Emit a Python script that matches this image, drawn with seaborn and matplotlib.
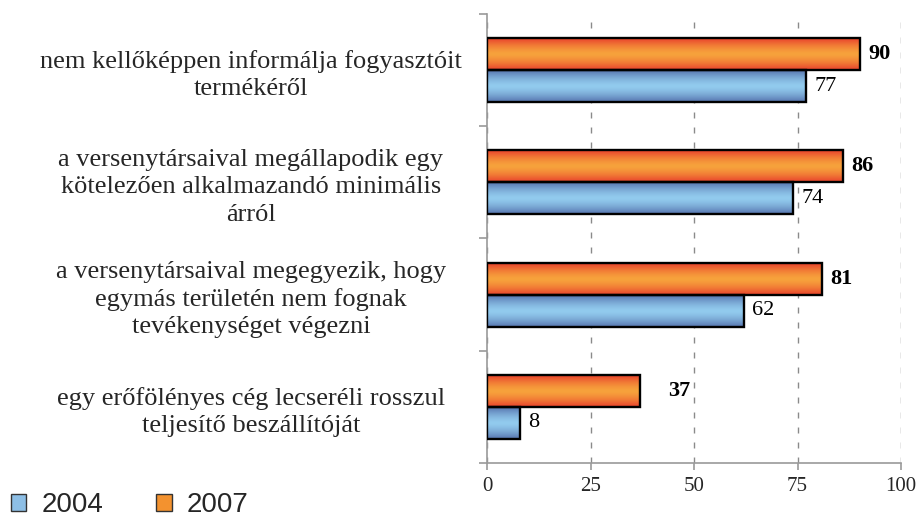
import numpy as np
import pandas as pd
import seaborn as sns
import matplotlib.pyplot as plt
from matplotlib.patches import Patch
from matplotlib.colors import to_rgb

# chart data
categories = [
    "nem kellőképpen informálja fogyasztóit\ntermékéről",
    "a versenytársaival megállapodik egy\nkötelezően alkalmazandó minimális\nárról",
    "a versenytársaival megegyezik, hogy\negymás területén nem fognak\ntevékenységet végezni",
    "egy erőfölényes cég lecseréli rosszul\nteljesítő beszállítóját",
]
years = ["2004", "2007"]
values_2004 = [77, 74, 62, 8]
values_2007 = [90, 86, 81, 37]
x_ticks = [0, 25, 50, 75, 100]

df = pd.DataFrame({
    "kategoria": categories * 2,
    "ev": ["2007"] * 4 + ["2004"] * 4,
    "ertek": values_2007 + values_2004,
})

sns.set_style("white")
plt.rcParams["font.family"] = ["Liberation Serif", "DejaVu Serif"]

fig = plt.figure(figsize=(9.18, 5.2), dpi=100)
ax = fig.add_axes([0.5305, 0.1096, 0.451, 0.8635])

sns.barplot(data=df, y="kategoria", x="ertek", hue="ev", hue_order=["2007", "2004"],
            orient="h", width=0.57, ax=ax, legend=False,
            edgecolor="black", linewidth=1.7, zorder=3)

# vertical gradients like the original excel bars
grad = {
    "2007": (to_rgb("#E8402C"), to_rgb("#F7A23C")),
    "2004": (to_rgb("#5674AE"), to_rgb("#92CBEE")),
}
t = np.linspace(0, 1, 64)
shape = 1 - np.abs(2 * t - 1) ** 1.5
for cont, yr in zip(ax.containers, ["2007", "2004"]):
    edge, mid = np.array(grad[yr][0]), np.array(grad[yr][1])
    img = edge + (mid - edge) * shape[:, None]
    img = img[:, None, :]
    for bar in cont:
        bar.set_facecolor("none")
        x0, y0 = bar.get_x(), bar.get_y()
        w, h = bar.get_width(), bar.get_height()
        im = ax.imshow(img, extent=(x0, x0 + w, y0 + h, y0), aspect="auto",
                       origin="upper", zorder=2, interpolation="bilinear")
        im.set_clip_path(bar)

# value labels
extra = {("2007", 3): 14}
for cont, yr in zip(ax.containers, ["2007", "2004"]):
    for i, bar in enumerate(cont):
        v = bar.get_width()
        ax.annotate(f"{v:.0f}", (v, bar.get_y() + bar.get_height() / 2),
                    xytext=(6 + extra.get((yr, i), 0), 0), textcoords="offset points",
                    va="center", ha="left", fontsize=16,
                    fontweight="bold" if yr == "2007" else "normal", color="black")

ax.set_xlim(0, 100)
ax.set_ylim(3.5, -0.5)
ax.set_xticks(x_ticks)
ax.set_xticklabels([str(v) for v in x_ticks], fontsize=15)
ax.set_xlabel("")
ax.set_ylabel("")

ax.xaxis.grid(True, linestyle=(0, (4.3, 6.5)), color="#8a8a8a", linewidth=1, zorder=1)
ax.yaxis.grid(False)
sns.despine(ax=ax, top=True, right=True)
for s in ["left", "bottom"]:
    ax.spines[s].set_color("#9a9a9a")
    ax.spines[s].set_linewidth(1.2)

ax.set_yticks([-0.5, 0.5, 1.5, 2.5, 3.5], minor=True)
ax.tick_params(axis="y", which="minor", length=6, color="#9a9a9a", width=1.2, left=True)
ax.tick_params(axis="y", which="major", length=0, pad=170)
ax.tick_params(axis="x", length=5, color="#9a9a9a", width=1.2, bottom=True, pad=5)
for lab in ax.get_yticklabels():
    lab.set_ha("center")
    lab.set_fontsize(19)
    lab.set_linespacing(1.3)

handles = [Patch(facecolor="#8DBFE6", edgecolor="#333333", linewidth=1),
           Patch(facecolor="#F3922F", edgecolor="#333333", linewidth=1)]
fig.legend(handles, years, loc="center left", bbox_to_anchor=(0.012, 0.028), ncol=2,
           frameon=False, handlelength=0.55, handleheight=0.55, handletextpad=0.55,
           columnspacing=1.9, borderpad=0, borderaxespad=0,
           prop={"family": "Liberation Sans", "size": 20})

fig.savefig("out.png", dpi=100)
